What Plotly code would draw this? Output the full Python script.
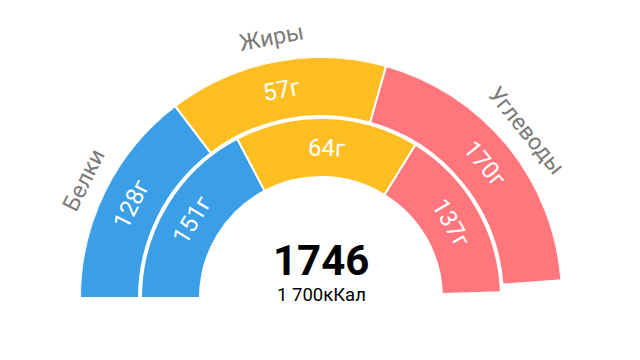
import plotly.graph_objects as go
import math

# ---- data ----
categories = ["Белки", "Жиры", "Углеводы"]
outer_grams = [128, 57, 170]
inner_grams = [151, 64, 137]
kcal_per_gram = [4, 9, 4]
scale_max_kcal = 1746
center_value = "1746"
center_sub = "1 700кКал"

colors = ["#3a9fe7", "#fdbe22", "#ff767c"]
label_color = "#7a7a7a"
FONT = "Roboto"

# ring geometry (radial axis units)
R_MAX = 241
OUTER = (182, 241)
INNER = (121, 180)

W, H = 640, 360
cx, cy = 321, 298


def segments(grams):
    out = []
    start = 180.0
    for g, k in zip(grams, kcal_per_gram):
        span = g * k / scale_max_kcal * 180.0
        out.append((start - span / 2, span))
        start -= span
    return out


fig = go.Figure()
annotations = []
for ring, grams in ((OUTER, outer_grams), (INNER, inner_grams)):
    segs = segments(grams)
    fig.add_trace(go.Barpolar(
        theta=[s[0] for s in segs],
        width=[s[1] for s in segs],
        r=[ring[1] - ring[0]] * len(segs),
        base=[ring[0]] * len(segs),
        marker=dict(color=colors, line=dict(color="white", width=2)),
        hoverinfo="skip",
        showlegend=False,
    ))
    rmid = (ring[0] + ring[1]) / 2
    for (th, span), g in zip(segs, grams):
        a = math.radians(th)
        annotations.append(dict(
            x=rmid * math.cos(a), y=rmid * math.sin(a), xref="x", yref="y",
            text=f"{g}г", showarrow=False, textangle=90 - th,
            font=dict(family=FONT, size=24, color="white"),
        ))
    if ring == OUTER:
        for (th, span), name in zip(segs, categories):
            a = math.radians(th)
            r_lab = 265
            annotations.append(dict(
                x=r_lab * math.cos(a), y=r_lab * math.sin(a), xref="x", yref="y",
                text=name, showarrow=False, textangle=90 - th,
                font=dict(family=FONT, size=23, color=label_color),
            ))

annotations.append(dict(x=0, y=38, xref="x", yref="y", text=f"<b>{center_value}</b>",
                        showarrow=False, font=dict(family=FONT, size=42, color="black")))
annotations.append(dict(x=0, y=3, xref="x", yref="y", text=center_sub,
                        showarrow=False, font=dict(family=FONT, size=18.5, color="black")))

# invisible cartesian overlay (whole page, pixel units around the gauge centre)
fig.add_trace(go.Scatter(x=[0], y=[0], mode="markers", marker=dict(opacity=0),
                         hoverinfo="skip", showlegend=False))

dom_x = [(cx - R_MAX) / W, (cx + R_MAX) / W]
dom_y = [(H - cy) / H, (H - cy + R_MAX) / H]

fig.update_layout(
    width=W, height=H, margin=dict(l=0, r=0, t=0, b=0),
    paper_bgcolor="white", plot_bgcolor="rgba(0,0,0,0)",
    polar=dict(
        domain=dict(x=dom_x, y=dom_y),
        sector=[0, 180],
        bgcolor="white",
        radialaxis=dict(range=[0, R_MAX], visible=False),
        angularaxis=dict(visible=False, direction="counterclockwise", rotation=0),
    ),
    xaxis=dict(domain=[0, 1], range=[-cx, W - cx], visible=False, fixedrange=True),
    yaxis=dict(domain=[0, 1], range=[cy - H, cy], visible=False, fixedrange=True),
    annotations=annotations,
    showlegend=False,
)

fig.write_html("out.html")
